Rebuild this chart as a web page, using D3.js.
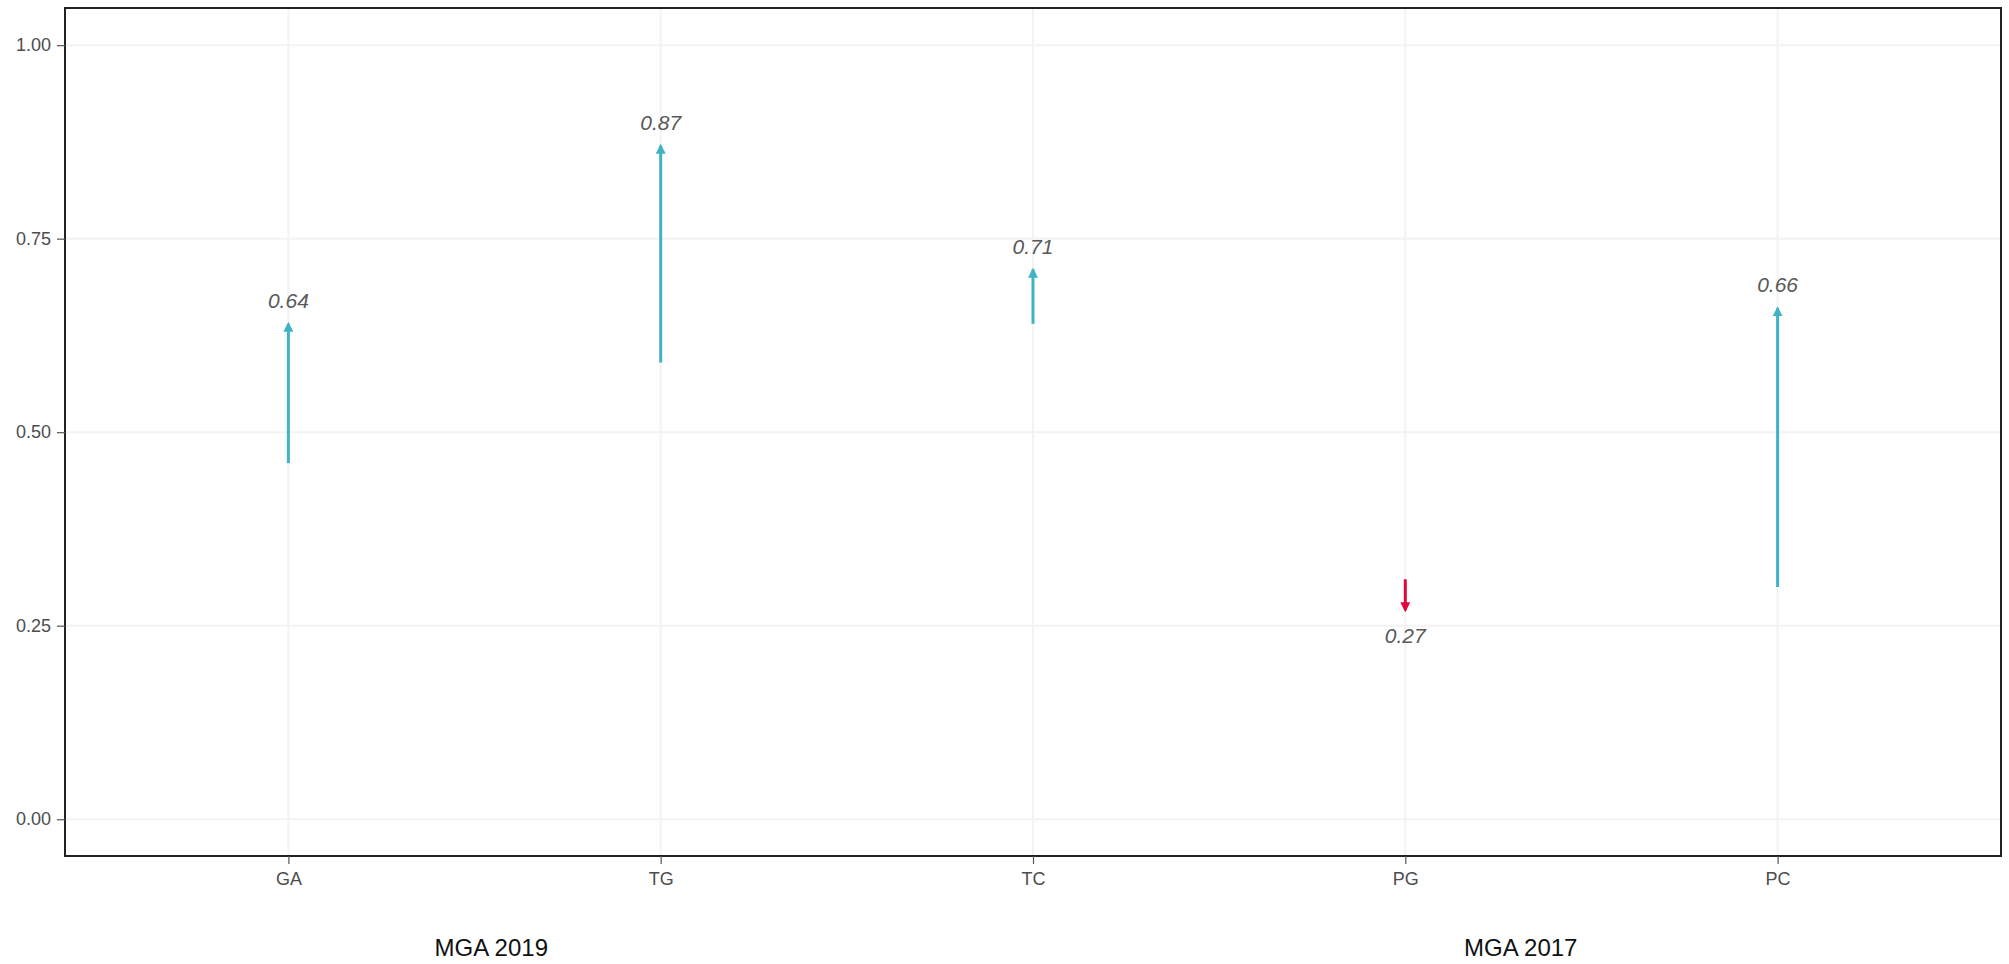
<!DOCTYPE html>
<html>
<head>
<meta charset="utf-8">
<script src="https://cdn.jsdelivr.net/npm/d3@7"></script>
<style>
  html, body { margin: 0; padding: 0; background: #ffffff; }
  svg { display: block; font-family: Arial, "Liberation Sans", sans-serif; }
</style>
</head>
<body>
<svg id="chart" width="2009" height="964"></svg>
<script>
// ---- data ----
const categories = ["GA", "TG", "TC", "PG", "PC"];
const startValues = [0.46, 0.59, 0.64, 0.31, 0.30];
const endValues   = [0.64, 0.87, 0.71, 0.27, 0.66];
const yTicks = [0, 0.25, 0.5, 0.75, 1.0];
const groupLabels = ["MGA 2019", "MGA 2017"];
const groupAnchors = ["GA", "PG"];          // category each group label is placed after
const groupOffsets = [0.545, 0.31];         // fraction of a category step from that anchor

const data = categories.map((c, i) => ({ cat: c, start: startValues[i], end: endValues[i] }));

// ---- layout ----
const svg = d3.select("#chart");
const panel = { left: 65, top: 8, right: 2001, bottom: 856 };

const x = d3.scalePoint()
  .domain(categories)
  .range([panel.left, panel.right])
  .padding(0.6);

const y = d3.scaleLinear()
  .domain([-0.0475, 1.048])
  .range([panel.bottom, panel.top]);

const upColor = "#3fb3c4";
const downColor = "#e0073d";

// background
svg.append("rect")
  .attr("x", panel.left).attr("y", panel.top)
  .attr("width", panel.right - panel.left).attr("height", panel.bottom - panel.top)
  .attr("fill", "#ffffff");

// grid
const grid = svg.append("g");
grid.selectAll("line.h").data(yTicks).join("line")
  .attr("class", "h")
  .attr("x1", panel.left).attr("x2", panel.right)
  .attr("y1", d => y(d)).attr("y2", d => y(d))
  .attr("stroke", "#f3f3f3").attr("stroke-width", 2);
grid.selectAll("line.v").data(categories).join("line")
  .attr("class", "v")
  .attr("y1", panel.top).attr("y2", panel.bottom)
  .attr("x1", d => x(d)).attr("x2", d => x(d))
  .attr("stroke", "#f3f3f3").attr("stroke-width", 2);

// arrow markers
const defs = svg.append("defs");
function marker(id, color) {
  defs.append("marker")
    .attr("id", id)
    .attr("viewBox", "0 0 10 10")
    .attr("refX", 8).attr("refY", 5)
    .attr("markerUnits", "userSpaceOnUse")
    .attr("markerWidth", 10).attr("markerHeight", 10)
    .attr("orient", "auto")
    .append("path")
    .attr("d", "M0,0 L10,5 L0,10 Z")
    .attr("fill", color);
}
marker("arrUp", upColor);
marker("arrDown", downColor);

// arrows
svg.append("g").selectAll("line").data(data).join("line")
  .attr("x1", d => x(d.cat)).attr("x2", d => x(d.cat))
  .attr("y1", d => y(d.start)).attr("y2", d => y(d.end))
  .attr("stroke", d => d.end >= d.start ? upColor : downColor)
  .attr("stroke-width", 3)
  .attr("marker-end", d => d.end >= d.start ? "url(#arrUp)" : "url(#arrDown)");

// value labels
svg.append("g").selectAll("text").data(data).join("text")
  .attr("x", d => x(d.cat))
  .attr("y", d => d.end >= d.start ? y(d.end) - 16 : y(d.end) + 33)
  .attr("text-anchor", "middle")
  .attr("font-size", 21)
  .attr("font-style", "italic")
  .attr("fill", "#595959")
  .text(d => d.end.toFixed(2));

// panel border
svg.append("rect")
  .attr("x", panel.left).attr("y", panel.top)
  .attr("width", panel.right - panel.left).attr("height", panel.bottom - panel.top)
  .attr("fill", "none").attr("stroke", "#222").attr("stroke-width", 2);

// y axis
const yAxis = svg.append("g")
  .attr("transform", `translate(${panel.left},0)`)
  .call(d3.axisLeft(y).tickValues(yTicks).tickFormat(d3.format(".2f")).tickSize(8).tickPadding(6));
yAxis.select(".domain").remove();
yAxis.selectAll(".tick line").attr("stroke", "#555").attr("stroke-width", 1.2);
yAxis.selectAll(".tick text").attr("font-size", 18).attr("fill", "#4d4d4d")
  .attr("font-family", "Arial, 'Liberation Sans', sans-serif");

// x axis
const xAxis = svg.append("g")
  .attr("transform", `translate(0,${panel.bottom})`)
  .call(d3.axisBottom(x).tickSize(8).tickPadding(8));
xAxis.select(".domain").remove();
xAxis.selectAll(".tick line").attr("stroke", "#555").attr("stroke-width", 1.2);
xAxis.selectAll(".tick text").attr("font-size", 18).attr("fill", "#4d4d4d")
  .attr("font-family", "Arial, 'Liberation Sans', sans-serif");

// group labels
svg.append("g").selectAll("text").data(groupLabels).join("text")
  .attr("x", (d, i) => x(groupAnchors[i]) + groupOffsets[i] * x.step())
  .attr("y", 956)
  .attr("text-anchor", "middle")
  .attr("font-size", 24)
  .attr("fill", "#111")
  .text(d => d);
</script>
</body>
</html>
